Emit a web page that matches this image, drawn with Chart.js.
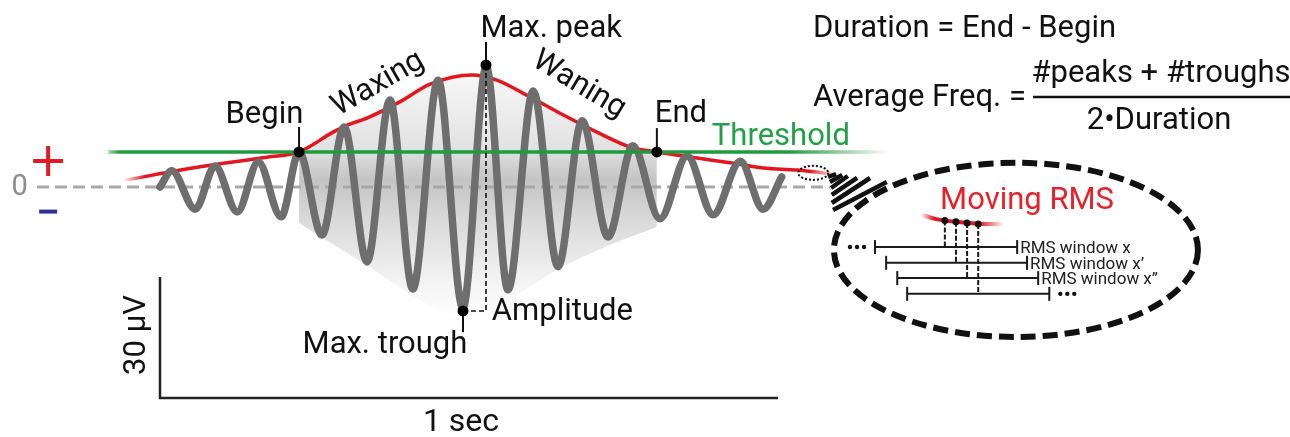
<!DOCTYPE html>
<html>
<head>
<meta charset="utf-8">
<script src="https://cdn.jsdelivr.net/npm/chart.js@4.4.1/dist/chart.umd.min.js"></script>
<style>
  html, body { margin: 0; padding: 0; background: #fff; }
  #wrap { width: 1290px; height: 437px; position: relative; }
</style>
</head>
<body>
<div id="wrap"><canvas id="spindle"></canvas></div>
<script>
// time in seconds, amplitude in µV
const waveTime = [0.000, 0.019, 0.057, 0.089, 0.125, 0.159, 0.196, 0.225, 0.262, 0.298, 0.335, 0.372, 0.409, 0.450, 0.490, 0.528, 0.563, 0.604, 0.644, 0.683, 0.725, 0.765, 0.809, 0.853, 0.895, 0.939, 0.976, 1.006];
const waveUv = [0.0, 4.0, -5.5, 5.2, -6.2, 6.2, -7.4, 8.7, -11.9, 14.9, -18.6, 21.6, -25.3, 26.5, -30.0, 29.8, -25.5, 23.8, -19.8, 16.4, -12.4, 10.2, -7.9, 7.7, -6.9, 6.4, -5.5, 2.5];

// moving RMS envelope
const envTime = [-0.057, 0.065, 0.173, 0.225, 0.280, 0.304, 0.335, 0.388, 0.437, 0.505, 0.545, 0.599, 0.652, 0.707, 0.761, 0.804, 0.869, 0.922, 0.976, 1.031, 1.100];
const envUv = [1.7, 5.0, 7.4, 8.7, 13.6, 15.4, 17.1, 21.1, 25.5, 27.8, 26.5, 22.3, 17.9, 13.6, 9.9, 8.7, 7.2, 6.0, 4.7, 4.2, 3.0];

// lower edge of the grey spindle shading
const shadeLowTime = [0.225, 0.333, 0.442, 0.502, 0.550, 0.642, 0.728, 0.804];
const shadeLowUv = [-8.9, -19.3, -29.8, -32.5, -29.3, -20.6, -14.4, -9.9];

const thresholdUv = 8.7;
const thresholdSpan = [-0.084, 1.181];
const zeroSpan = [-0.199, 1.084];

// Begin, Max. peak, End, Max. trough
const markerTime = [0.225, 0.5275, 0.804, 0.4903];
const markerUv = [8.7, 30.25, 8.7, -30.75];
const leaderTo = [14.9, 36.0, 14.6, -36.0];

// scale bar: 30 µV x 1 sec
const barTime = [0, 0, 1];
const barUv = [-22.3, -52.3, -52.3];

// zoomed moving RMS panel
const zoomEnvTime = [1.233, 1.254, 1.294, 1.343, 1.366];
const zoomEnvUv = [-6.9, -7.9, -8.7, -9.2, -9.2];
const rmsDotTime = [1.270, 1.288, 1.306, 1.324];
const rmsDotUv = [-8.3, -8.6, -8.9, -9.2];
const windowStart = [1.157, 1.175, 1.193, 1.209];
const windowEnd = [1.387, 1.403, 1.421, 1.439];
const windowUv = [-14.9, -18.8, -22.6, -26.5];
const windowLabel = ['RMS window x', 'RMS window x’', 'RMS window x”', ''];

const pts = (xs, ys) => xs.map((x, i) => ({ x: x, y: ys[i] }));
const FONT = 'Roboto';
const RED = '#e4161e', GREEN = '#1f9b3f';

function hGradient(chart, t0, t1, stops, fallback) {
  if (!chart.chartArea) return fallback;
  const x = chart.scales.x;
  const g = chart.ctx.createLinearGradient(x.getPixelForValue(t0), 0, x.getPixelForValue(t1), 0);
  stops.forEach(s => g.addColorStop(s[0], s[1]));
  return g;
}

function shadeGradient(chart) {
  if (!chart.chartArea) return '#ddd';
  const y = chart.scales.y;
  const g = chart.ctx.createLinearGradient(0, y.getPixelForValue(28), 0, y.getPixelForValue(-33));
  g.addColorStop(0, '#f7f7f7');
  g.addColorStop(0.3, '#e2e2e2');
  g.addColorStop(0.43, '#c4c4c4');
  g.addColorStop(0.6, '#dadada');
  g.addColorStop(0.85, '#f4f4f4');
  g.addColorStop(1, '#ffffff');
  return g;
}

const shadeTop = pts(envTime, envUv).filter(p => p.x >= markerTime[0] && p.x <= markerTime[2]);

const datasets = [
  { // 0 shading top
    data: shadeTop, borderColor: 'rgba(0,0,0,0)', borderWidth: 0,
    fill: '+1', backgroundColor: c => shadeGradient(c.chart),
    cubicInterpolationMode: 'monotone', order: 20
  },
  { // 1 shading bottom
    data: pts(shadeLowTime, shadeLowUv), borderColor: 'rgba(0,0,0,0)', borderWidth: 0,
    cubicInterpolationMode: 'monotone', order: 19
  },
  { // zero line
    data: pts(zeroSpan, [0, 0]), borderColor: '#a8a8a8', borderWidth: 3, borderDash: [12, 6], order: 18
  },
  { // RMS envelope
    data: pts(envTime, envUv), borderWidth: 3.5, cubicInterpolationMode: 'monotone', order: 17,
    borderColor: c => hGradient(c.chart, -0.060, 1.110,
      [[0, 'rgba(228,22,30,0)'], [0.03, RED], [0.95, RED], [1, 'rgba(255,200,180,0)']], RED)
  },
  { // EEG trace
    data: pts(waveTime, waveUv), borderColor: '#6e6e6e', borderWidth: 7.5,
    cubicInterpolationMode: 'monotone', borderCapStyle: 'round', order: 16
  },
  { // threshold
    data: pts(thresholdSpan, [thresholdUv, thresholdUv]), borderWidth: 3.5, order: 15,
    borderColor: c => hGradient(c.chart, thresholdSpan[0], thresholdSpan[1],
      [[0, 'rgba(31,155,63,0.4)'], [0.015, GREEN], [0.87, GREEN], [1, 'rgba(31,155,63,0)']], GREEN)
  },
  { // amplitude dashed guide
    data: [
      { x: markerTime[1], y: markerUv[1] },
      { x: markerTime[1], y: markerUv[3] },
      { x: markerTime[3], y: markerUv[3] }
    ],
    borderColor: '#111', borderWidth: 1.6, borderDash: [5, 3], order: 14
  },
  { // scale bar
    data: pts(barTime, barUv), borderColor: '#222', borderWidth: 2.5, order: 13
  },
  { // zoomed envelope
    data: pts(zoomEnvTime, zoomEnvUv), borderWidth: 4, cubicInterpolationMode: 'monotone', order: 12,
    borderColor: c => hGradient(c.chart, zoomEnvTime[0], zoomEnvTime[zoomEnvTime.length - 1],
      [[0, 'rgba(228,22,30,0.1)'], [0.15, RED], [0.7, RED], [1, 'rgba(228,22,30,0)']], RED)
  }
];

// leader ticks for the labels
markerTime.forEach((t, i) => {
  datasets.push({ data: [{ x: t, y: markerUv[i] }, { x: t, y: leaderTo[i] }], borderColor: '#111', borderWidth: 2, order: 11 });
});

// RMS windows and their dashed links to the RMS samples
windowStart.forEach((s, i) => {
  datasets.push({
    data: [{ x: s, y: windowUv[i] }, { x: windowEnd[i], y: windowUv[i] }],
    borderColor: '#1a1a1a', borderWidth: 2, order: 10,
    pointStyle: 'line', rotation: 90, pointRadius: 7, pointBorderWidth: 2, pointBorderColor: '#1a1a1a'
  });
  datasets.push({
    data: [{ x: rmsDotTime[i], y: rmsDotUv[i] }, { x: rmsDotTime[i], y: windowUv[i] }],
    borderColor: '#1a1a1a', borderWidth: 2, borderDash: [5, 2], order: 9
  });
});

datasets.push({ // RMS samples
  data: pts(rmsDotTime, rmsDotUv), showLine: false, pointRadius: 3.5,
  pointBackgroundColor: '#111', pointBorderWidth: 0, order: 2
});
datasets.push({ // Begin / peaks / End markers
  data: pts(markerTime, markerUv), showLine: false, pointRadius: 5.5,
  pointBackgroundColor: '#000', pointBorderWidth: 0, order: 1
});

const labels = [
  { text: 'Begin', t: 0.169, v: 15.9 },
  { text: 'Max. peak', t: 0.633, v: 37.2 },
  { text: 'End', t: 0.843, v: 16.1 },
  { text: 'Waxing', t: 0.353, v: 25.5, rot: -30, base: 'middle' },
  { text: 'Waning', t: 0.678, v: 25.3, rot: 31, base: 'middle' },
  { text: 'Threshold', t: 0.893, v: 10.4, align: 'left', color: '#23a046' },
  { text: 'Amplitude', t: 0.537, v: -33.0, align: 'left' },
  { text: 'Max. trough', t: 0.364, v: -41.2 },
  { text: '30 µV', t: -0.024, v: -36.7, rot: -90 },
  { text: '1 sec', t: 0.487, v: -60.5, size: 32 },
  { text: '0', t: -0.227, v: -2.0, color: '#8c8c8c', size: 29 },
  { text: 'Moving RMS', t: 1.403, v: -5.5, color: '#e8202a' }
];

// zoom "cone" strokes between the small and the big ellipse (t0, v0, t1, v1)
const fanStrokes = [
  [1.081, 2.48, 1.094, 3.22],
  [1.084, 1.24, 1.104, 2.98],
  [1.086, -0.25, 1.113, 2.73],
  [1.087, -1.98, 1.128, 2.23],
  [1.087, -3.97, 1.149, 2.23],
  [1.089, -5.70, 1.176, 1.24]
];

const decor = {
  id: 'decor',
  afterDatasetsDraw(chart) {
    const { ctx, scales: { x, y } } = chart;
    const X = t => x.getPixelForValue(t), Y = v => y.getPixelForValue(v);
    const sx = X(1) - X(0), sy = Y(0) - Y(1);
    ctx.save();

    labels.forEach(l => {
      ctx.save();
      ctx.translate(X(l.t), Y(l.v));
      if (l.rot) ctx.rotate(l.rot * Math.PI / 180);
      ctx.font = (l.size || 31) + 'px ' + FONT;
      ctx.fillStyle = l.color || '#111';
      ctx.textAlign = l.align || 'center';
      ctx.textBaseline = l.base || 'alphabetic';
      ctx.fillText(l.text, 0, 0);
      ctx.restore();
    });

    // + / - polarity
    ctx.lineCap = 'butt';
    ctx.strokeStyle = '#e31b23';
    ctx.lineWidth = 4;
    const px0 = X(-0.181), py0 = Y(6.45);
    ctx.beginPath();
    ctx.moveTo(px0 - 15, py0); ctx.lineTo(px0 + 15, py0);
    ctx.moveTo(px0, py0 - 15); ctx.lineTo(px0, py0 + 15);
    ctx.stroke();
    ctx.fillStyle = '#2e3192';
    ctx.fillRect(px0 - 9, Y(-6.1) - 2, 18, 4);

    // window labels and ellipsis dots
    ctx.font = '17px ' + FONT;
    ctx.fillStyle = '#222';
    ctx.textAlign = 'left';
    ctx.textBaseline = 'alphabetic';
    windowLabel.forEach((s, i) => {
      if (s) ctx.fillText(s, X(windowEnd[i]) + 3, Y(windowUv[i]) + 6);
    });
    const dots = (x0, y0) => {
      for (let k = 0; k < 3; k++) {
        ctx.beginPath(); ctx.arc(x0 + k * 7, y0, 2.2, 0, Math.PI * 2); ctx.fill();
      }
    };
    ctx.fillStyle = '#111';
    dots(X(windowStart[0]) - 25, Y(windowUv[0]));
    dots(X(windowEnd[3]) + 11, Y(windowUv[3]));

    // small dotted ellipse on the envelope
    ctx.strokeStyle = '#111';
    ctx.lineWidth = 2;
    ctx.setLineDash([2, 2]);
    ctx.beginPath();
    ctx.ellipse(X(1.057), Y(3.5), 0.0243 * sx, 1.74 * sy, 0, 0, Math.PI * 2);
    ctx.stroke();

    // zoom fan
    ctx.setLineDash([]);
    ctx.lineWidth = 4.5;
    fanStrokes.forEach(f => {
      ctx.beginPath(); ctx.moveTo(X(f[0]), Y(f[1])); ctx.lineTo(X(f[2]), Y(f[3])); ctx.stroke();
    });

    // big dashed ellipse
    ctx.lineWidth = 6;
    ctx.setLineDash([15, 7]);
    ctx.beginPath();
    ctx.ellipse(X(1.385), Y(-15.6), 0.2945 * sx, 21.6 * sy, 0, 0, Math.PI * 2);
    ctx.stroke();
    ctx.setLineDash([]);

    // formulas
    ctx.fillStyle = '#111';
    ctx.font = '31px ' + FONT;
    ctx.textAlign = 'left';
    ctx.fillText('Duration = End - Begin', 813, 37);
    ctx.fillText('Average Freq. =', 813, 106);
    ctx.textAlign = 'center';
    ctx.fillText('#peaks + #troughs', 1161, 82);
    ctx.fillText('2•Duration', 1159, 129);
    ctx.lineWidth = 2.5;
    ctx.beginPath(); ctx.moveTo(1033, 97); ctx.lineTo(1290, 97); ctx.stroke();

    ctx.restore();
  }
};

new Chart(document.getElementById('spindle'), {
  type: 'line',
  data: { datasets: datasets.map(d => Object.assign({ pointRadius: 0, fill: false, tension: 0 }, d)) },
  options: {
    responsive: true,
    maintainAspectRatio: false,
    animation: false,
    layout: { padding: 0, autoPadding: false },
    scales: {
      x: { type: 'linear', display: false, min: -0.2589, max: 1.8285 },
      y: { type: 'linear', display: false, min: -62.0, max: 46.37 }
    },
    plugins: { legend: { display: false }, tooltip: { enabled: false } }
  },
  plugins: [decor]
});
</script>
</body>
</html>
